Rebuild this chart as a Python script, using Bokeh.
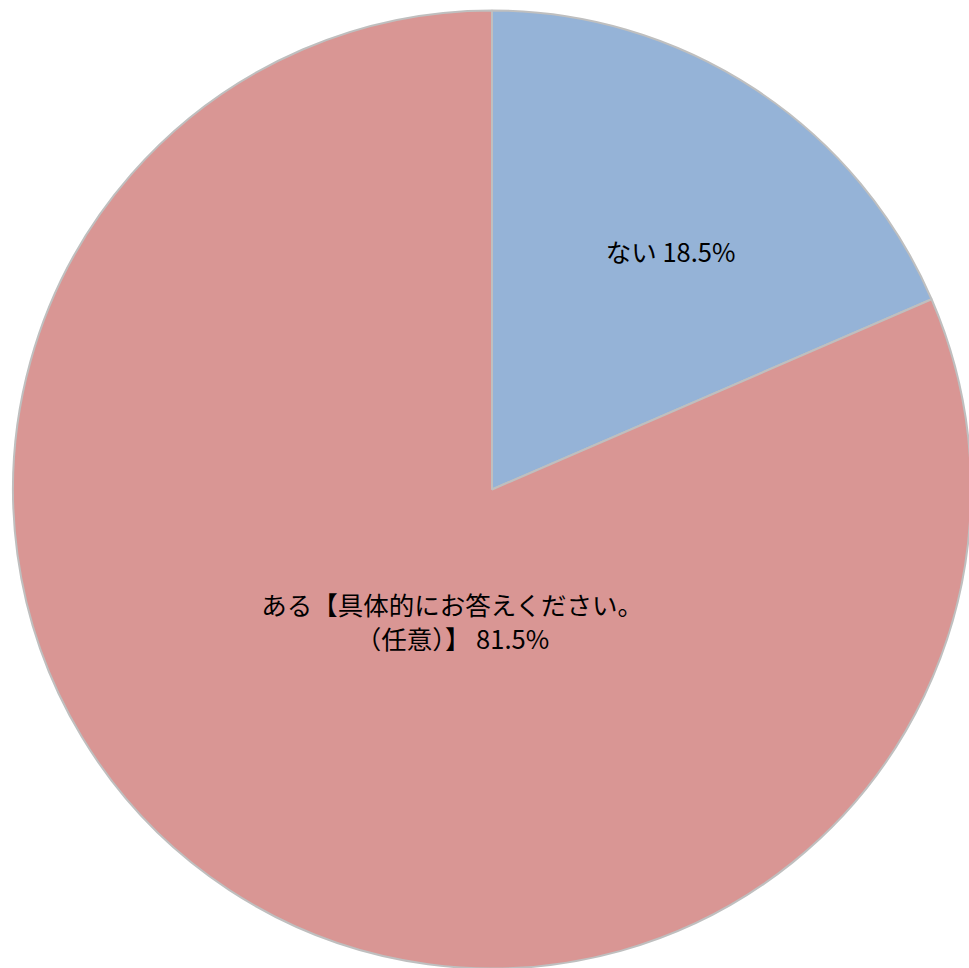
import math
from bokeh.plotting import figure
from bokeh.models import ColumnDataSource, Range1d
from bokeh.core.properties import value
from bokeh.embed import file_html
from bokeh.resources import INLINE

# ---- data ----
categories = ["ない", "ある【具体的にお答えください。（任意）】"]
percent = [18.5, 81.5]
label_lines = ["ない 18.5%", "ある【具体的にお答えください。\n（任意）】 81.5%"]
colors = ["#95B3D7", "#D99694"]

# ---- layout (pixels) ----
W, H = 969, 968
cx, cy, R = 491.5, 479.0, 479.0
# label placement: (radius fraction, polar angle in degrees)
label_polar = [(0.623, 53.25), (0.286, -106.8)]

# angles: start at 12 o'clock, clockwise
starts, ends = [], []
a = 90.0
for pv in percent:
    sweep = pv / 100.0 * 360.0
    starts.append(math.radians(a - sweep))
    ends.append(math.radians(a))
    a -= sweep

src = ColumnDataSource(dict(cat=categories, start=starts, end=ends, color=colors))

lx = [cx + f * R * math.cos(math.radians(t)) for f, t in label_polar]
ly = [cy + f * R * math.sin(math.radians(t)) for f, t in label_polar]
lsrc = ColumnDataSource(dict(x=lx, y=ly, text=label_lines))

p = figure(width=W, height=H, output_backend="svg", toolbar_location=None,
           x_range=Range1d(0, W), y_range=Range1d(0, H), min_border=0)
p.axis.visible = False
p.grid.visible = False
p.outline_line_color = None
p.background_fill_color = "white"

p.wedge(x=cx, y=cy, radius=R, start_angle="start", end_angle="end",
        fill_color="color", line_color="#BFBFBF", line_width=2, source=src)

p.text(x="x", y="y", text="text", source=lsrc, text_align="center",
       text_baseline="middle", text_font=value("Noto Sans CJK JP"),
       text_font_size="25.5px", text_color="black", text_line_height=0.93)

open("out.html", "w").write(file_html(p, INLINE))
